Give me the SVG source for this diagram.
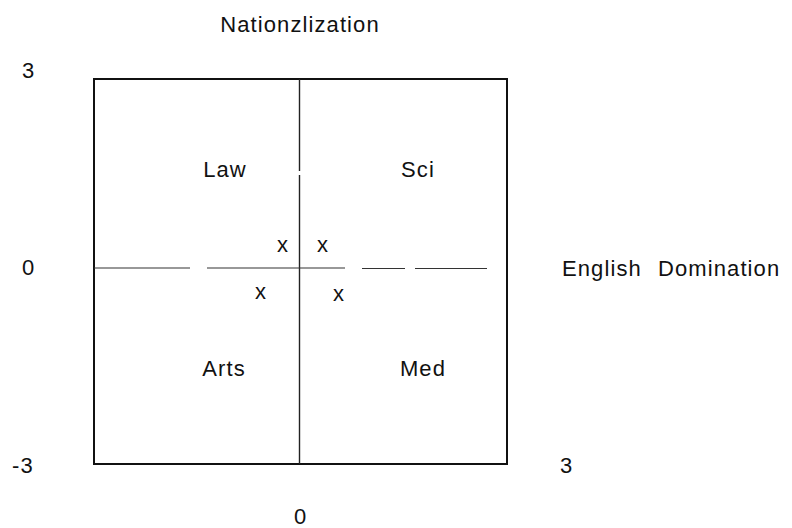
<svg xmlns="http://www.w3.org/2000/svg" width="792" height="528" viewBox="0 0 792 528">
<style>
text{font-family:"Liberation Sans",Arial,sans-serif;font-size:22px;fill:#111;letter-spacing:1.1px}
.mid{text-anchor:middle}
.frame{fill:none;stroke:#111;stroke-width:2}
.axis{stroke:#222;stroke-width:1.4;fill:none}
.haxis{stroke:#333;stroke-width:1.2;fill:none}
</style>
<rect width="792" height="528" fill="#fff"/>
<g id="axes">
<rect class="frame" x="94" y="79" width="413" height="385"/>
<path class="axis" d="M299.5 79 V171 M299.5 175 V464"/>
<path class="haxis" d="M94 268 H190 M207 268 H345 M362 268.5 H405 M415 268.5 H487"/>
</g>
<g id="axis-labels">
<text class="mid" x="300" y="32">Nationzlization</text>
<text x="562" y="276">English</text>
<text x="658" y="276">Domination</text>
<text x="22" y="78">3</text>
<text x="22" y="275">0</text>
<text x="12" y="473">-3</text>
<text x="560" y="473">3</text>
<text x="294" y="524">0</text>
</g>
<g id="quadrant-labels">
<text class="mid" x="225" y="177">Law</text>
<text class="mid" x="418" y="177">Sci</text>
<text class="mid" x="224" y="376">Arts</text>
<text class="mid" x="423" y="376">Med</text>
</g>
<g id="points">
<text class="mid" x="283" y="252">x</text>
<text class="mid" x="323" y="252">x</text>
<text class="mid" x="261" y="299">x</text>
<text class="mid" x="339" y="301">x</text>
</g>
</svg>
